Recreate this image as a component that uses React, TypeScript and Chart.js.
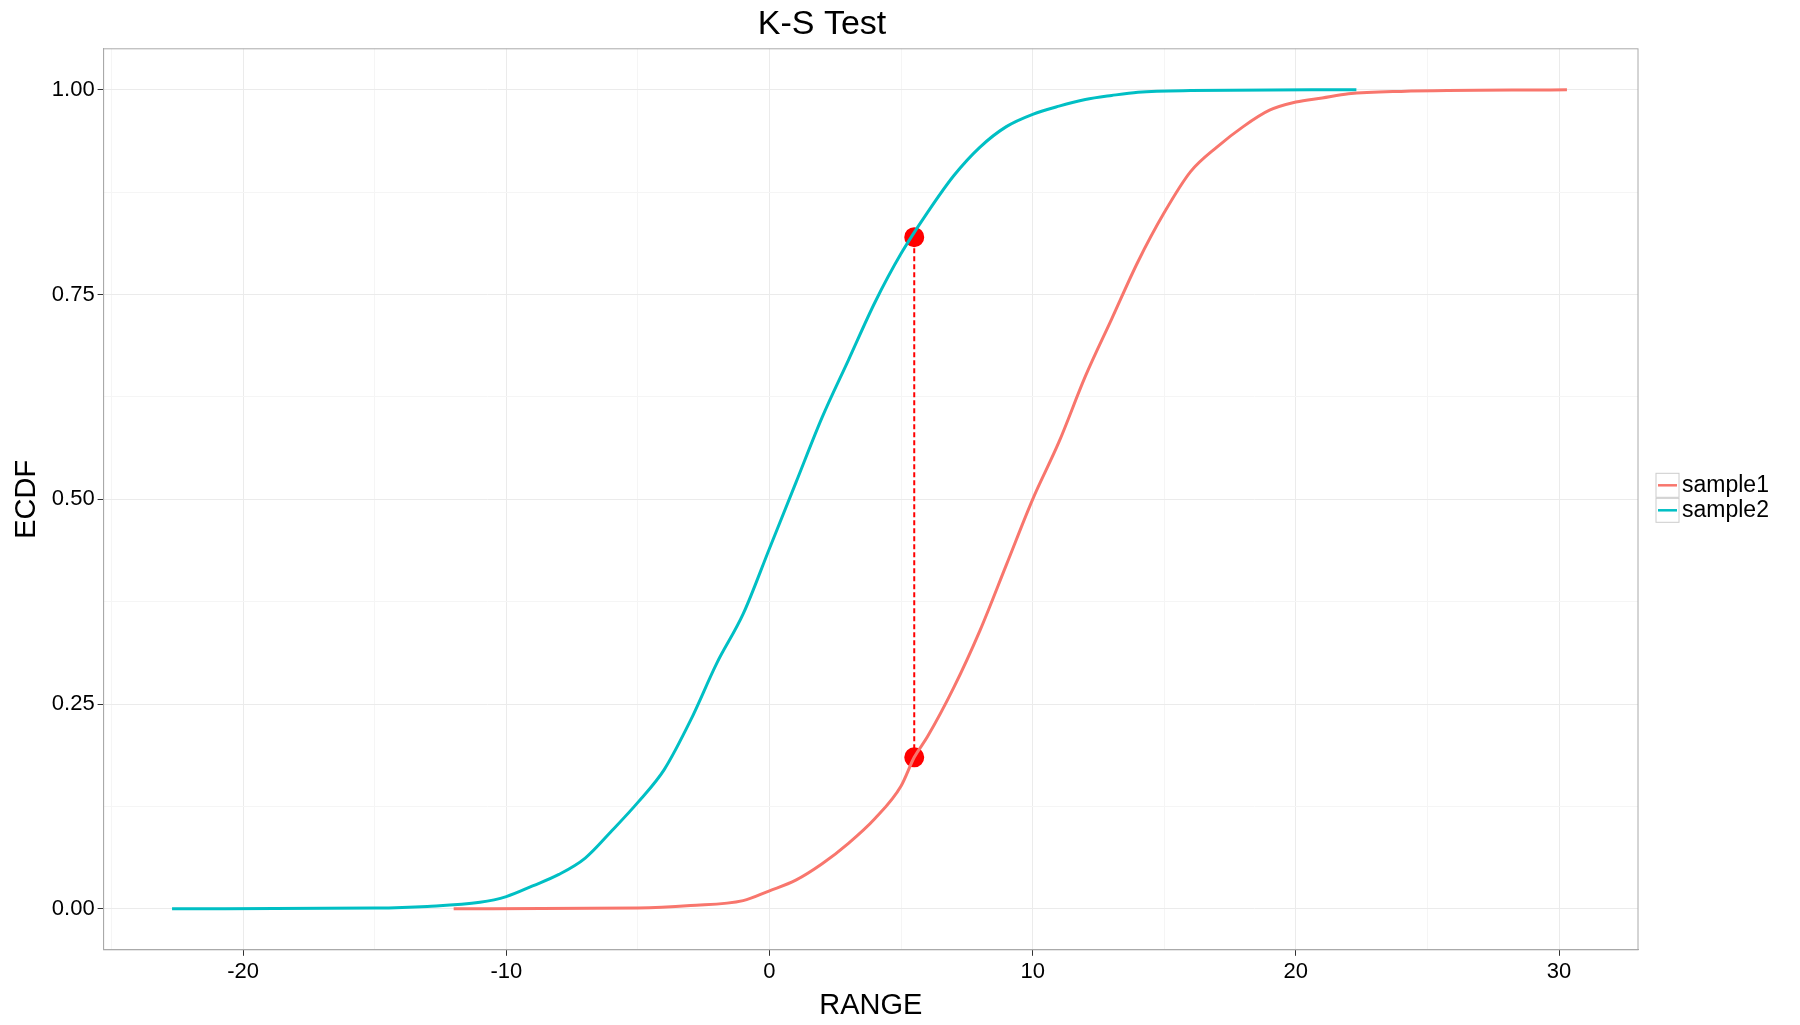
import React, { useEffect, useRef } from 'react';
import Chart from 'chart.js/auto';

// sample2 ECDF (teal)
const S2_X = [-22.7, -15, -13, -11, -10, -9, -8, -7, -6, -5, -4, -3, -2, -1, 0, 1, 2, 3, 4, 5, 6, 7, 8, 9, 10, 11, 12, 13, 14, 16, 22.3];
const S2_Y = [0, 0.001, 0.003, 0.008, 0.015, 0.028, 0.042, 0.062, 0.095, 0.13, 0.17, 0.23, 0.3, 0.36, 0.44, 0.52, 0.6, 0.67, 0.74, 0.8, 0.85, 0.895, 0.93, 0.955, 0.97, 0.98, 0.988, 0.993, 0.997, 0.999, 1];
// sample1 ECDF (red)
const S1_X = [-12, -5, -3, -1, 0, 1, 2, 3, 4, 5, 5.5, 6, 7, 8, 9, 10, 11, 12, 13, 14, 15, 16, 17, 18, 19, 20, 21, 22, 24, 30.3];
const S1_Y = [0, 0.001, 0.004, 0.01, 0.022, 0.035, 0.055, 0.08, 0.11, 0.15, 0.185, 0.21, 0.27, 0.34, 0.42, 0.5, 0.57, 0.65, 0.72, 0.79, 0.85, 0.9, 0.93, 0.955, 0.975, 0.985, 0.99, 0.995, 0.998, 1];
// K-S statistic location
const KS_X = 5.5;
const KS_Y = [0.185, 0.82];

const SERIES = [
  { label: 'sample1', color: '#F8766D' },
  { label: 'sample2', color: '#00BFC4' },
];

const FONT = '"Liberation Sans", Arial, sans-serif';

const legendPlugin = {
  id: 'sideLegend',
  afterDraw(chart: any) {
    const ctx = chart.ctx;
    const x0 = chart.chartArea.right + 18;
    const y0 = chart.chartArea.top + (chart.chartArea.bottom - chart.chartArea.top) / 2 - 14;
    ctx.save();
    ctx.font = `23px ${FONT}`;
    ctx.textBaseline = 'middle';
    SERIES.forEach((s, i) => {
      const y = y0 + i * 25;
      ctx.strokeStyle = '#cccccc';
      ctx.lineWidth = 1;
      ctx.strokeRect(x0, y - 12, 23, 24);
      ctx.strokeStyle = s.color;
      ctx.lineWidth = 2.5;
      ctx.beginPath();
      ctx.moveTo(x0 + 2, y);
      ctx.lineTo(x0 + 21, y);
      ctx.stroke();
      ctx.fillStyle = '#000';
      ctx.fillText(s.label, x0 + 26, y);
    });
    const a = chart.chartArea;
    ctx.strokeStyle = '#aaaaaa';
    ctx.lineWidth = 1;
    ctx.strokeRect(a.left, a.top, a.right - a.left, a.bottom - a.top);
    ctx.restore();
  },
};

const App: React.FC = () => {
  const ref = useRef<HTMLCanvasElement>(null);

  useEffect(() => {
    document.body.style.margin = '0';
    if (!ref.current) return;
    const line = { showLine: true, borderWidth: 3, pointRadius: 0, cubicInterpolationMode: 'monotone' as const };
    const chart = new Chart(ref.current, {
      type: 'scatter',
      data: {
        datasets: [
          { label: 'sample1', data: S1_X.map((x, i) => ({ x, y: S1_Y[i] })), borderColor: SERIES[0].color, ...line },
          { label: 'sample2', data: S2_X.map((x, i) => ({ x, y: S2_Y[i] })), borderColor: SERIES[1].color, ...line },
          {
            label: 'ks',
            data: KS_Y.map((y) => ({ x: KS_X, y })),
            showLine: true,
            borderColor: '#ff0000',
            borderWidth: 2,
            borderDash: [5, 3],
            pointRadius: 9,
            pointBackgroundColor: '#ff0000',
            pointBorderColor: '#ff0000',
          },
        ],
      },
      options: {
        animation: false,
        responsive: true,
        maintainAspectRatio: false,
        layout: { padding: { right: 162, top: 0, bottom: 2, left: 6 } },
        plugins: {
          legend: { display: false },
          tooltip: { enabled: false },
          title: {
            display: true,
            text: 'K-S Test',
            color: '#000',
            font: { family: FONT, size: 34, weight: 'normal' },
            padding: { top: 4, bottom: 4 },
          },
        },
        scales: {
          x: {
            type: 'linear',
            min: -25.3,
            max: 33,
            afterBuildTicks: (axis: any) => {
              const t = [];
              for (let v = -25; v <= 30; v += 5) t.push({ value: v });
              axis.ticks = t;
            },
            ticks: {
              color: '#000',
              font: { family: FONT, size: 22 },
              autoSkip: false,
              maxRotation: 0,
              callback: (v: any) => (Number(v) % 10 === 0 ? String(v) : ''),
            },
            grid: {
              color: (c: any) => (c.tick && c.tick.value % 10 === 0 ? '#ebebeb' : '#f5f5f5'),
              tickLength: 6,
              tickColor: (c: any) => (c.tick && c.tick.value % 10 === 0 ? '#333' : 'rgba(0,0,0,0)'),
            },
            border: { color: '#aaaaaa' },
            title: { display: true, text: 'RANGE', color: '#000', font: { family: FONT, size: 29 }, padding: 0 },
          },
          y: {
            type: 'linear',
            min: -0.05,
            max: 1.05,
            afterBuildTicks: (axis: any) => {
              const t = [];
              for (let v = 0; v <= 1.0001; v += 0.125) t.push({ value: Math.round(v * 1000) / 1000 });
              axis.ticks = t;
            },
            ticks: {
              color: '#000',
              font: { family: FONT, size: 22 },
              autoSkip: false,
              callback: (v: any) => (Math.round(Number(v) * 1000) % 250 === 0 ? Number(v).toFixed(2) : ''),
            },
            grid: {
              color: (c: any) => (c.tick && Math.round(c.tick.value * 1000) % 250 === 0 ? '#ebebeb' : '#f5f5f5'),
              tickLength: 6,
              tickColor: (c: any) => (c.tick && Math.round(c.tick.value * 1000) % 250 === 0 ? '#333' : 'rgba(0,0,0,0)'),
            },
            border: { color: '#aaaaaa' },
            title: { display: true, text: 'ECDF', color: '#000', font: { family: FONT, size: 29 }, padding: 4 },
          },
        },
      },
      plugins: [legendPlugin],
    });
    return () => chart.destroy();
  }, []);

  return (
    <div style={{ width: 1800, height: 1025, background: '#fff' }}>
      <canvas ref={ref} />
    </div>
  );
};

export default App;
